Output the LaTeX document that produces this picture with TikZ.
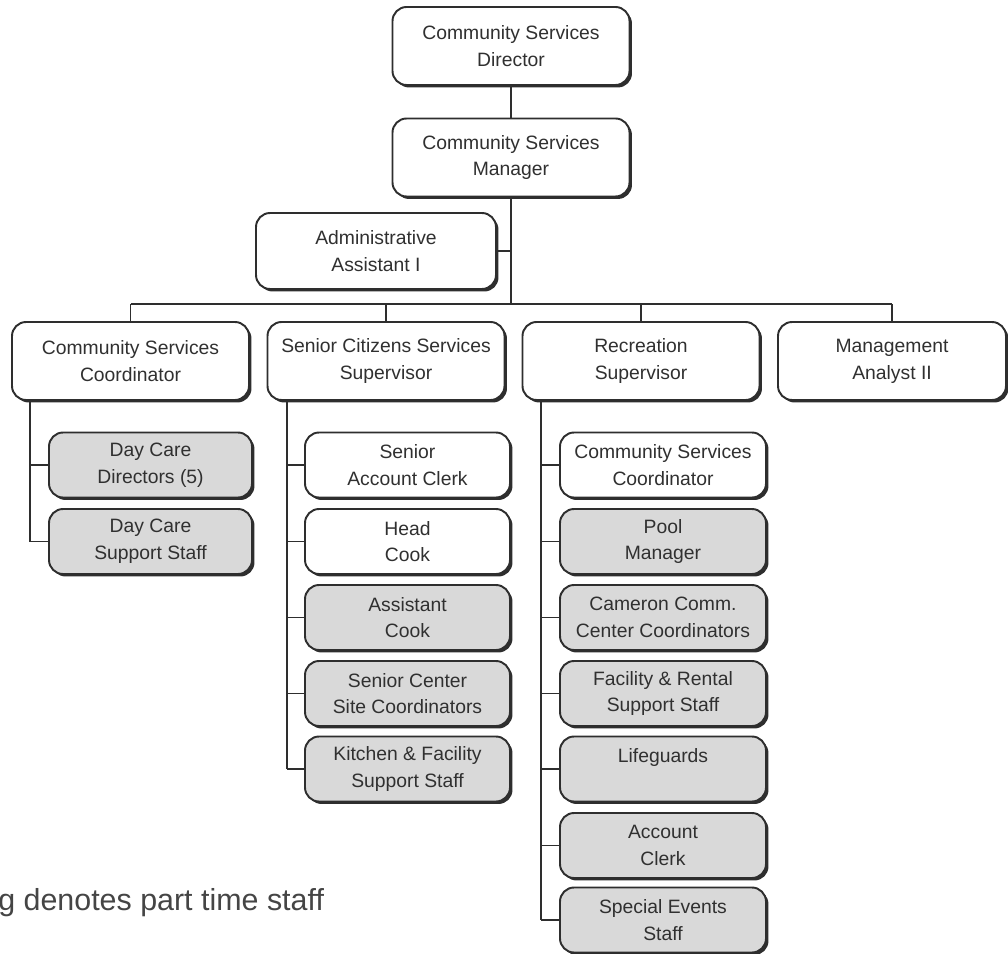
\documentclass[tikz,border=0pt]{standalone}
\usepackage{fontspec}
\usepackage{tikz}
\usetikzlibrary{positioning, shadows}
\usepackage{xcolor}
\newfontfamily\boxfont{Liberation Sans}
\newfontfamily\notefont{Liberation Sans}
\definecolor{orgline}{HTML}{2E2E2E}
\definecolor{orgtext}{HTML}{303030}
\definecolor{orgshade}{HTML}{D9D9D9}
\definecolor{orgnote}{HTML}{454545}

\begin{document}
\begin{tikzpicture}[
      box/.style={draw=orgline, line width=1.1pt, rounded corners=8pt, fill=white,
                  minimum width=4.74cm, minimum height=1.56cm, align=center,
                  text=orgtext, font=\boxfont\fontsize{11}{15.2}\selectfont,
                  general shadow={fill=orgline, shadow xshift=1.4pt, shadow yshift=-1.4pt}},
      sub/.style={box, minimum width=4.1cm, minimum height=1.3cm},
      parttime/.style={sub, fill=orgshade},
      link/.style={draw=orgline, line width=0.8pt}
    ]
      \useasboundingbox (0, 0) rectangle (20.16, -19.06);

      \node[box] (dir) at (10.22, -0.92) {Community Services\\Director};
      \node[box] (mgr) at (10.22, -3.15) {Community Services\\Manager};
      \node[box, minimum width=4.8cm, minimum height=1.52cm] (adm) at (7.52, -5.02)
        {Administrative\\Assistant I};

      \node[box] (csc) at (2.61, -7.22) {Community Services\\Coordinator};
      \node[box] (scs) at (7.72, -7.22) {Senior Citizens Services\\Supervisor};
      \node[box] (rec) at (12.82, -7.22) {Recreation\\Supervisor};
      \node[box, minimum width=4.56cm] (mga) at (17.84, -7.22) {Management\\Analyst II};

      \node[parttime, minimum width=4.06cm] (dcd) at (3.01, -9.30) {Day Care\\Directors (5)};
      \node[parttime, minimum width=4.06cm] (dcs) at (3.01, -10.83) {Day Care\\Support Staff};

      \node[sub] (sac) at (8.15, -9.30) {Senior\\Account Clerk};
      \node[sub] (hck) at (8.15, -10.83) {Head\\Cook};
      \node[parttime] (ack) at (8.15, -12.35) {Assistant\\Cook};
      \node[parttime] (scc) at (8.15, -13.87) {Senior Center\\Site Coordinators};
      \node[parttime] (kfs) at (8.15, -15.38) {Kitchen \& Facility\\Support Staff};

      \node[sub, minimum width=4.12cm] (rcc) at (13.26, -9.30) {Community Services\\Coordinator};
      \node[parttime, minimum width=4.12cm] (pool) at (13.26, -10.83) {Pool\\Manager};
      \node[parttime, minimum width=4.12cm] (ccc) at (13.26, -12.35) {Cameron Comm.\\Center Coordinators};
      \node[parttime, minimum width=4.12cm] (frs) at (13.26, -13.87) {Facility \& Rental\\Support Staff};
      \node[parttime, minimum width=4.12cm] (lfg) at (13.26, -15.38) {Lifeguards\\\mbox{}};
      \node[parttime, minimum width=4.12cm] (acl) at (13.26, -16.91) {Account\\Clerk};
      \node[parttime, minimum width=4.12cm] (sev) at (13.26, -18.40) {Special Events\\Staff};

      \coordinate (bus) at (10.22, -6.08);
      \coordinate (drop1) at (0.60, 0);
      \coordinate (drop2) at (5.74, 0);
      \coordinate (drop3) at (10.82, 0);

      \draw[link] (dir) -- (mgr);
      \draw[link] (mgr) -- (bus);
      \draw[link] (adm.east) -- (adm.east -| bus);
      \draw[link] (csc |- bus) -- (mga |- bus);
      \foreach \n in {csc, scs, rec, mga}
        \draw[link] (\n |- bus) -- (\n);

      \draw[link] (csc.south -| drop1) -- (dcs.west -| drop1);
      \foreach \n in {dcd, dcs}
        \draw[link] (\n.west -| drop1) -- (\n.west);
      \draw[link] (scs.south -| drop2) -- (kfs.west -| drop2);
      \foreach \n in {sac, hck, ack, scc, kfs}
        \draw[link] (\n.west -| drop2) -- (\n.west);
      \draw[link] (rec.south -| drop3) -- (sev.west -| drop3);
      \foreach \n in {rcc, pool, ccc, frs, lfg, acl, sev}
        \draw[link] (\n.west -| drop3) -- (\n.west);

      \node[anchor=west, inner sep=0pt, text=orgnote,
            font=\notefont\fontsize{17.3}{20}\selectfont] (note) at (-0.04, -18.06)
        {g denotes part time staff};
    \end{tikzpicture}
\end{document}
